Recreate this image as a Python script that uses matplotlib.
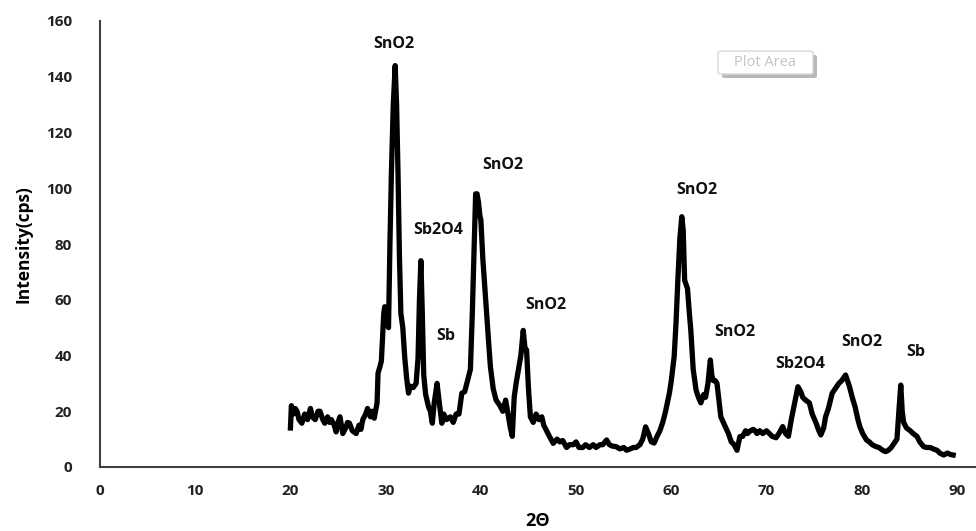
import matplotlib
matplotlib.use("Agg")
import matplotlib.pyplot as plt
from matplotlib.patches import FancyBboxPatch

two_theta = [20.0, 20.1, 20.3, 20.5, 20.7, 20.9, 21.2, 21.5, 21.8, 22.1, 22.3, 22.6, 22.9, 23.1, 23.4, 23.6,
             23.9, 24.1, 24.3, 24.6, 24.8, 25.0, 25.2, 25.5, 25.8, 26.0, 26.2, 26.5, 26.9, 27.2, 27.4, 27.6,
             27.9, 28.1, 28.4, 28.6, 28.8, 29.1, 29.2, 29.4, 29.55, 29.8, 29.9, 30.1, 30.3, 30.45, 30.6, 30.8,
             31.0, 31.15, 31.3, 31.45, 31.6, 31.8, 32.0, 32.2, 32.4, 32.6, 32.9, 33.2, 33.4, 33.55, 33.7, 33.85,
             34.0, 34.2, 34.5, 34.7, 34.9, 35.1, 35.4, 35.6, 35.9, 36.1, 36.4, 36.8, 37.1, 37.4, 37.7, 38.0,
             38.3, 38.6, 38.9, 39.1, 39.3, 39.45, 39.6, 39.75, 39.9, 40.0, 40.2, 40.5, 40.8, 41.0, 41.3, 41.6,
             42.0, 42.3, 42.6, 42.9, 43.1, 43.3, 43.5, 43.7, 44.0, 44.2, 44.45, 44.65, 44.8, 45.0, 45.2, 45.5,
             45.8, 46.1, 46.4, 46.6, 46.9, 47.2, 47.6, 48.0, 48.3, 48.6, 49.0, 49.3, 49.7, 50.0, 50.3, 50.7,
             51.0, 51.4, 51.8, 52.1, 52.5, 52.8, 53.2, 53.5, 53.8, 54.2, 54.6, 55.0, 55.3, 55.7, 56.0, 56.3,
             56.7, 57.0, 57.3, 57.6, 57.9, 58.2, 58.5, 58.8, 59.1, 59.4, 59.8, 60.0, 60.3, 60.5, 60.7, 60.9,
             61.1, 61.25, 61.4, 61.7, 61.9, 62.05, 62.3, 62.6, 62.85, 63.1, 63.4, 63.6, 63.85, 64.1, 64.25, 64.4,
             64.6, 64.8, 65.0, 65.2, 65.6, 66.0, 66.3, 66.6, 66.9, 67.2, 67.5, 67.8, 68.0, 68.3, 68.6, 68.8,
             69.0, 69.3, 69.6, 70.0, 70.3, 70.6, 71.0, 71.3, 71.7, 72.0, 72.3, 72.6, 72.9, 73.3, 73.6, 73.8,
             74.1, 74.5, 74.8, 75.2, 75.5, 75.7, 76.0, 76.2, 76.5, 76.9, 77.2, 77.6, 77.9, 78.1, 78.3, 78.5,
             78.7, 79.0, 79.3, 79.6, 79.8, 80.1, 80.5, 80.8, 81.1, 81.5, 81.8, 82.2, 82.5, 82.8, 83.1, 83.4,
             83.7, 83.9, 84.1, 84.25, 84.4, 84.7, 85.1, 85.4, 85.8, 86.1, 86.5, 86.8, 87.2, 87.5, 87.9, 88.2,
             88.6, 89.0, 89.3, 89.6]
intensity = [14, 22, 19, 21, 20, 17, 15.7, 19, 17, 21, 18, 17, 20, 20, 17, 15.7,
             18, 16, 17, 15, 12.6, 16, 18, 12, 14, 16, 15.7, 13, 12, 15, 13.5, 17,
             19, 21, 18, 20, 17.5, 23, 33.7, 36, 38, 55, 57.5, 52, 50, 80, 105, 130,
             144, 130, 105, 75, 55, 50, 39.5, 32, 26.5, 29, 28.5, 30, 39, 60, 74, 55,
             33, 26, 21.6, 20, 15.7, 23, 30, 24, 15.7, 19, 17, 18, 16, 19, 19, 26.5,
             27, 31, 35, 55, 80, 98, 98, 95, 90, 88.6, 75, 60, 45.5, 36, 28, 24,
             22, 20, 24, 18, 14, 11, 25, 30, 36, 40, 49, 42, 42, 28, 18, 16,
             19, 17, 18, 15, 13, 11, 8.5, 10, 9, 9.5, 7, 8, 8, 9, 7, 7,
             8, 7, 8, 7, 8, 8, 9.7, 8, 7.5, 7.3, 6.5, 7, 6, 6.5, 7, 7,
             8, 10, 14.4, 12, 9, 8.6, 11, 13, 16, 20, 26.5, 31, 39.6, 52, 68, 82,
             89.8, 85, 67, 64, 55, 49, 35, 27.6, 25, 23, 26, 25, 30, 38.4, 33, 31,
             31, 30, 24, 18, 15, 12, 9, 8, 6, 10.9, 11, 13, 12, 13, 13.5, 13,
             12, 13, 12, 13, 12, 11, 10.5, 12, 14.5, 12, 11, 17, 22, 28.8, 27, 25,
             24, 23, 19, 15.8, 13, 11.5, 14, 18, 21, 26.5, 28, 30, 31, 32, 33, 31,
             29, 25, 21.6, 17, 14.5, 12, 9.7, 9, 8, 7.3, 7, 6, 5.5, 6, 7, 8.5,
             10, 20, 29.4, 20, 16, 14, 13, 12, 11, 9, 7.3, 7, 7, 6.5, 6, 5,
             4.3, 5, 4.5, 4.3]

peak_labels = ["SnO2", "Sb2O4", "Sb", "SnO2", "SnO2", "SnO2", "SnO2", "Sb2O4", "SnO2", "Sb"]
label_x = [30.9, 35.5, 36.3, 42.3, 46.8, 62.7, 66.7, 73.5, 80.0, 85.7]
label_y = [151.7, 85.0, 47.0, 108.3, 58.1, 99.4, 48.4, 37.0, 44.8, 41.3]

x_ticks = [0, 10, 20, 30, 40, 50, 60, 70, 80, 90]
y_ticks = [0, 20, 40, 60, 80, 100, 120, 140, 160]

plt.rcParams['font.family'] = ['Open Sans', 'DejaVu Sans']

fig = plt.figure(figsize=(9.76, 5.31), dpi=100)
ax = fig.add_axes([100/976, 64/531, 876/976, 446/531])
ax.plot(two_theta, intensity, color='black', linewidth=3.8, solid_joinstyle='round')

ax.set_xlim(0, 92)
ax.set_ylim(0, 160)
ax.set_xticks(x_ticks)
ax.set_yticks(y_ticks)
ax.tick_params(length=0, labelsize=11, colors='#222222')
ax.tick_params(axis='x', pad=12)
ax.tick_params(axis='y', pad=20)
for lbl in ax.get_xticklabels() + ax.get_yticklabels():
    lbl.set_fontweight('bold')
for sp in ['top', 'right']:
    ax.spines[sp].set_visible(False)
for sp in ['left', 'bottom']:
    ax.spines[sp].set_color('#404040')
    ax.spines[sp].set_linewidth(1.5)

ax.set_ylabel('Intensity(cps)', fontsize=12.5, fontweight='bold', labelpad=10)
ax.set_xlabel('2\u0398', fontsize=13, fontweight='bold', labelpad=10)

for t, xx, yy in zip(peak_labels, label_x, label_y):
    ax.text(xx, yy, t, fontsize=11.5, fontweight='bold', ha='center', va='center', color='#111111')

# "Plot Area" tooltip box with drop shadow
shadow = FancyBboxPatch((722/976, 1 - 78/531), 95/976, 23/531,
                        boxstyle='round,pad=0,rounding_size=0.003',
                        transform=fig.transFigure, facecolor='#b8b8b8', edgecolor='none', zorder=5)
box = FancyBboxPatch((718/976, 1 - 74/531), 95/976, 23/531,
                     boxstyle='round,pad=0,rounding_size=0.003',
                     transform=fig.transFigure, facecolor='white', edgecolor='#d8d8d8',
                     linewidth=1, zorder=6)
fig.add_artist(shadow)
fig.add_artist(box)
fig.text(765/976, 1 - 63/531, 'Plot Area', fontsize=10.5, color='#c4c4c4', ha='center', va='center', zorder=7)

fig.savefig('out.png', dpi=100)
